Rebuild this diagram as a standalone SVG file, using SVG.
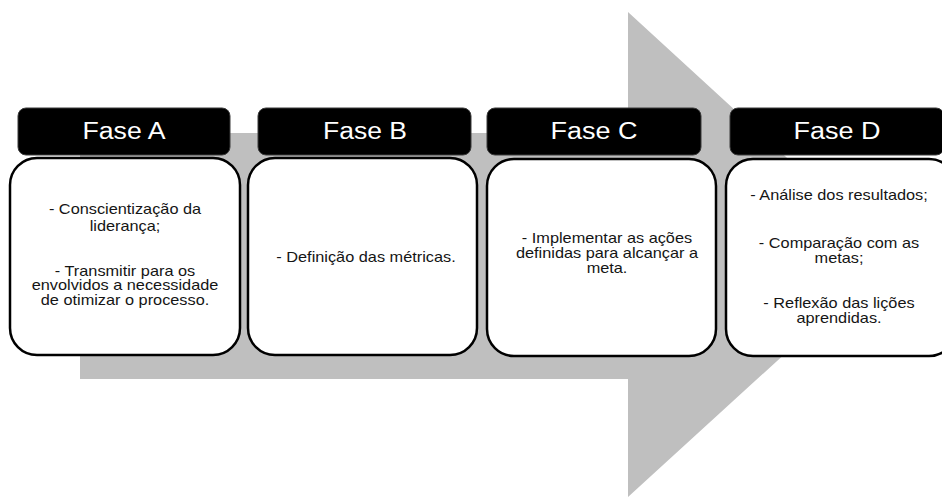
<svg xmlns="http://www.w3.org/2000/svg" width="942" height="498" viewBox="0 0 942 498">
<style>
.hdr{fill:#000;stroke:#3a3a3a;stroke-width:1}
.body{fill:#fff;stroke:#000;stroke-width:2.5}
.ht{font-family:"Liberation Sans",Arial,sans-serif;font-size:23px;fill:#fff;text-anchor:middle}
.bt{font-family:"Liberation Sans",Arial,sans-serif;font-size:14px;fill:#151515;text-anchor:middle}
</style>
<rect width="942" height="498" fill="#fff"/>
<g id="arrow">
<polygon points="80,133 628,133 628,12 893,255 628,497 628,379 80,379" fill="#bfbfbf"/>
</g>
<g id="faseA">
<rect class="body" x="10" y="158" width="230" height="197" rx="27"/>
<rect class="hdr" x="18" y="108" width="212" height="47" rx="8"/>
<text class="ht" x="124" y="139" textLength="83" lengthAdjust="spacingAndGlyphs">Fase A</text>
<g transform="translate(125,0) scale(1.165,1)">
<text class="bt" x="0" y="214">- Conscientização da</text>
<text class="bt" x="0" y="231">liderança;</text>
<text class="bt" x="0" y="276">- Transmitir para os</text>
<text class="bt" x="0" y="290.5">envolvidos a necessidade</text>
<text class="bt" x="0" y="305">de otimizar o processo.</text>
</g>
</g>
<g id="faseB">
<rect class="body" x="248" y="158" width="229" height="197" rx="27"/>
<rect class="hdr" x="258" y="108" width="213" height="47" rx="8"/>
<text class="ht" x="365" y="139" textLength="84" lengthAdjust="spacingAndGlyphs">Fase B</text>
<g transform="translate(366,0) scale(1.165,1)">
<text class="bt" x="0" y="262">- Definição das métricas.</text>
</g>
</g>
<g id="faseC">
<rect class="body" x="487" y="159" width="229" height="197" rx="27"/>
<rect class="hdr" x="487" y="108" width="214" height="47" rx="8"/>
<text class="ht" x="594" y="139" textLength="87" lengthAdjust="spacingAndGlyphs">Fase C</text>
<g transform="translate(607,0) scale(1.165,1)">
<text class="bt" x="0" y="243">- Implementar as ações</text>
<text class="bt" x="0" y="258">definidas para alcançar a</text>
<text class="bt" x="0" y="273">meta.</text>
</g>
</g>
<g id="faseD">
<rect class="body" x="726" y="159" width="230" height="197" rx="27"/>
<rect class="hdr" x="730" y="108" width="214" height="47" rx="8"/>
<text class="ht" x="837" y="139" textLength="87" lengthAdjust="spacingAndGlyphs">Fase D</text>
<g transform="translate(839,0) scale(1.165,1)">
<text class="bt" x="0" y="200">- Análise dos resultados;</text>
<text class="bt" x="0" y="248">- Comparação com as</text>
<text class="bt" x="0" y="263">metas;</text>
<text class="bt" x="0" y="308">- Reflexão das lições</text>
<text class="bt" x="0" y="323">aprendidas.</text>
</g>
</g>
</svg>
